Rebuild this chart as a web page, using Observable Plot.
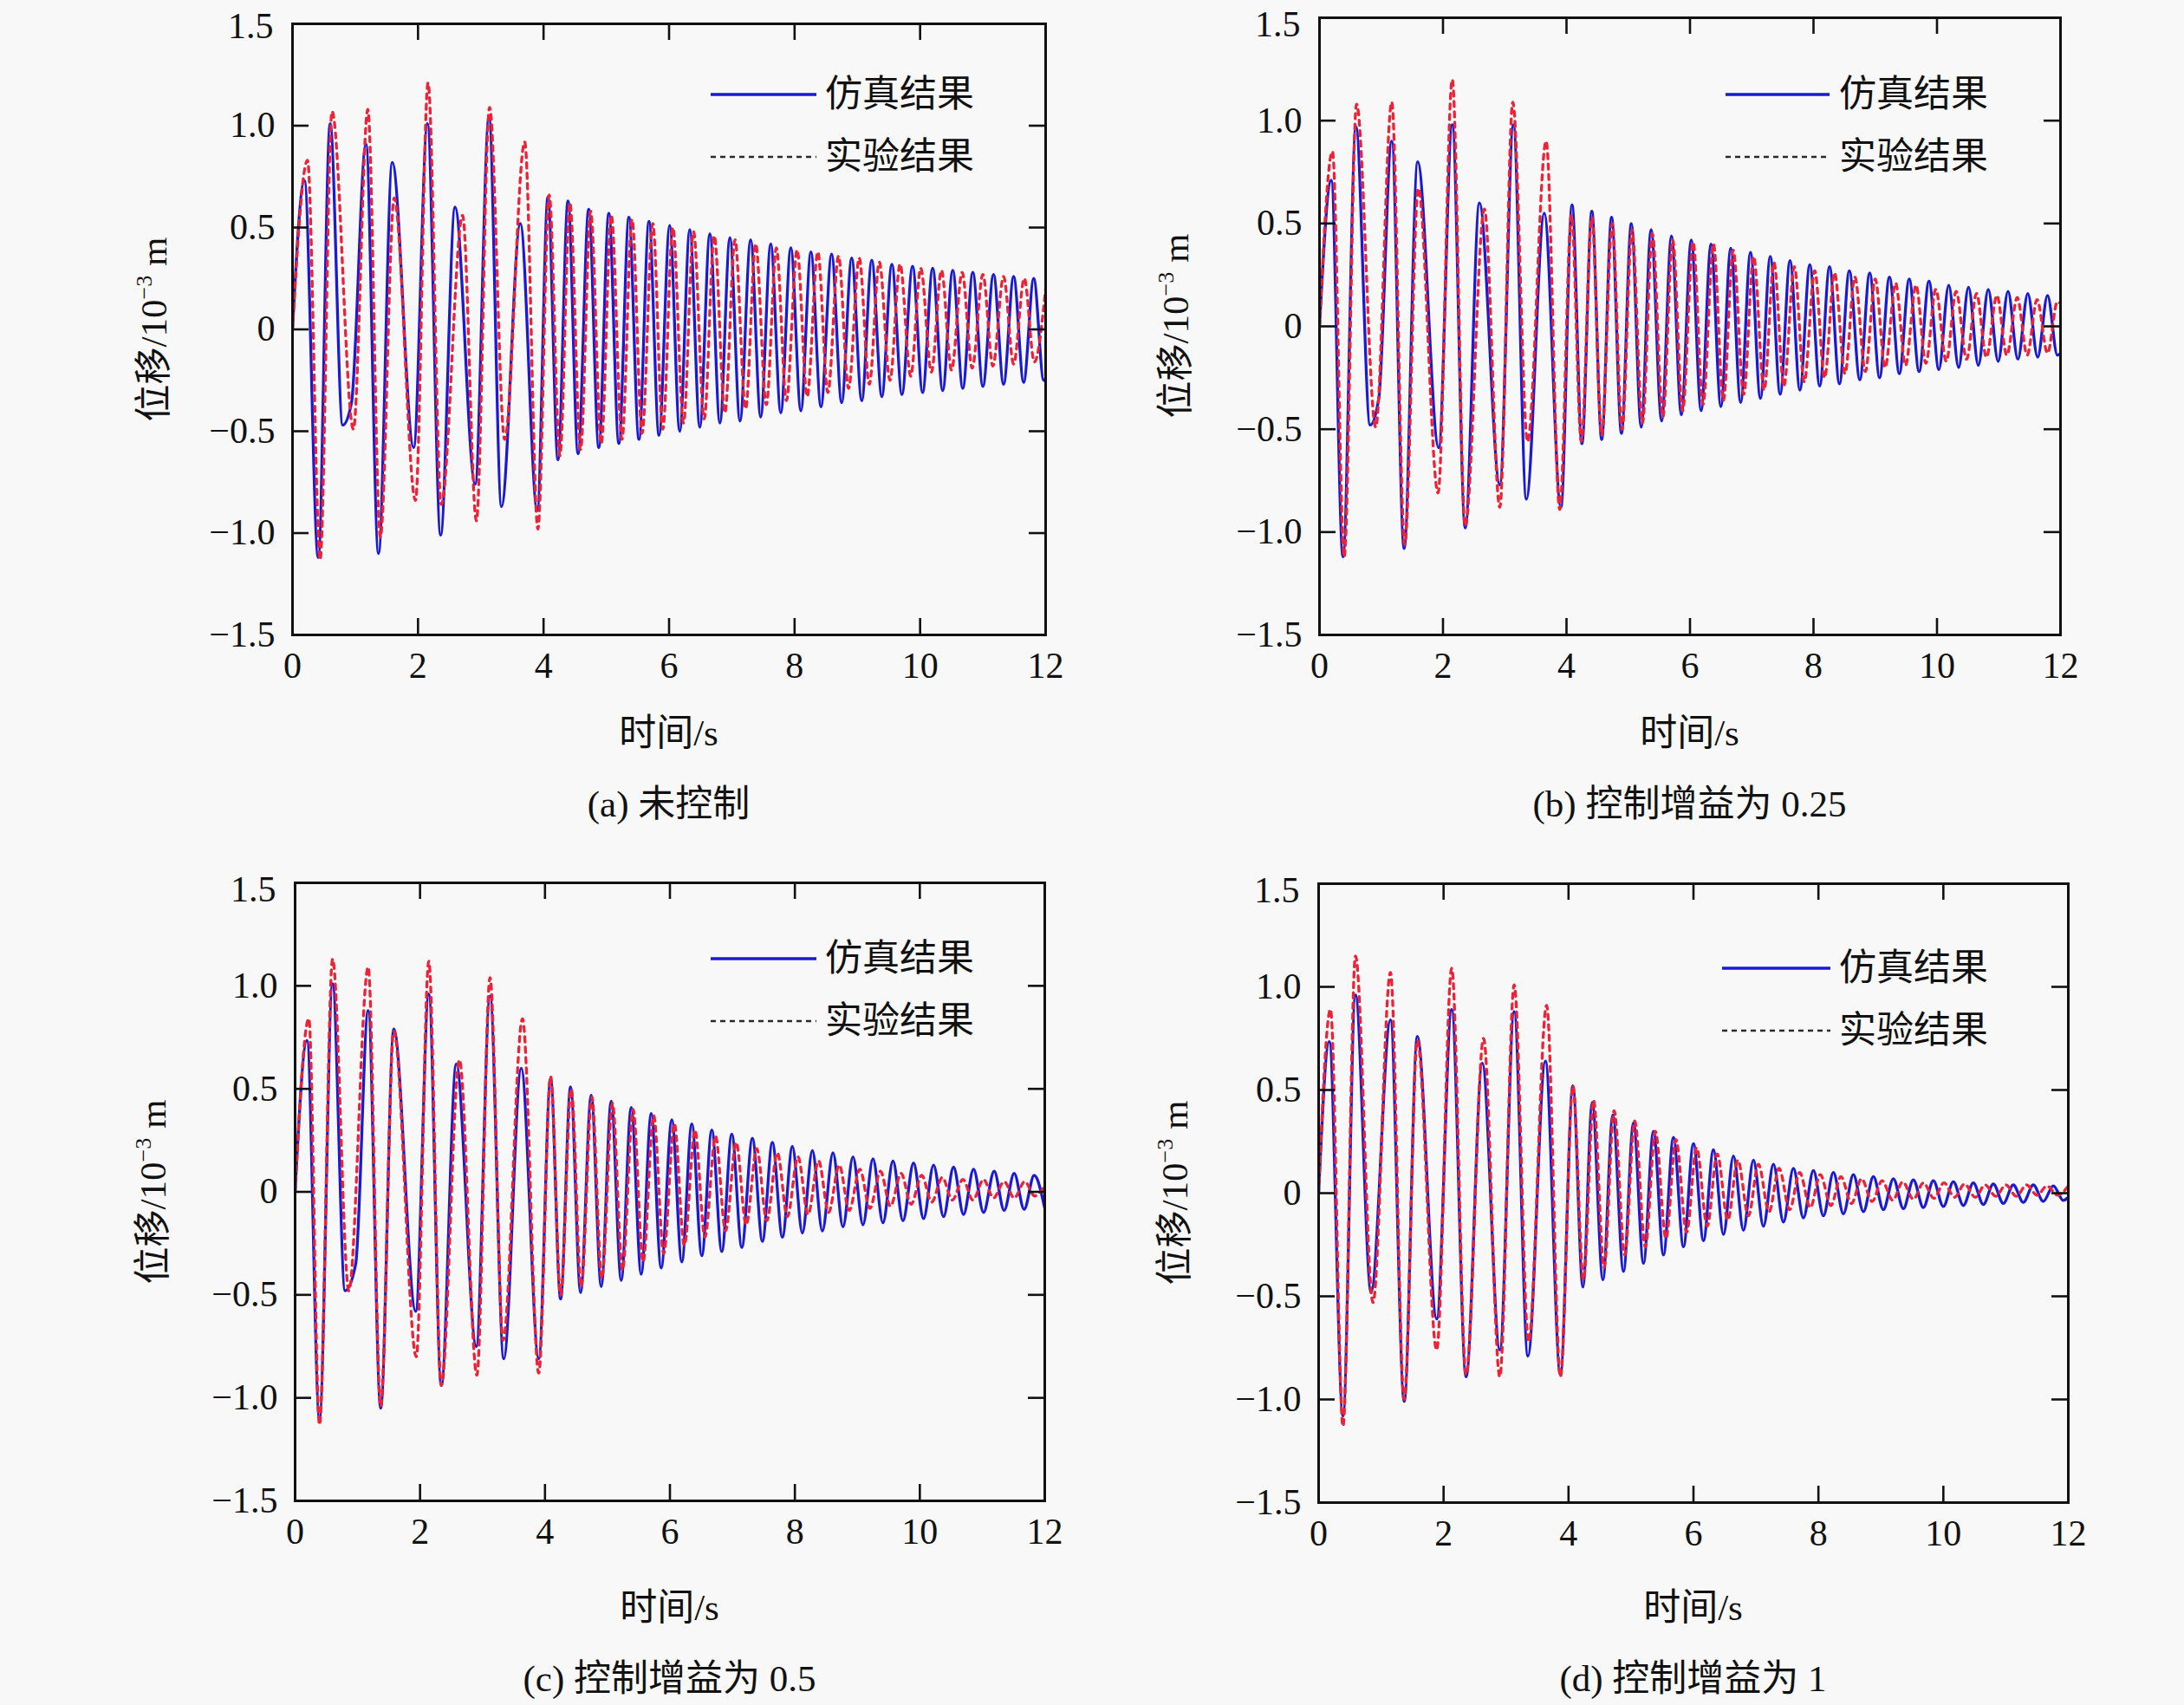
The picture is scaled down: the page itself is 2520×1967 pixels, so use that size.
<!DOCTYPE html>
<html><head><meta charset="utf-8">
<script src="https://cdn.jsdelivr.net/npm/d3@7"></script>
<script src="https://cdn.jsdelivr.net/npm/@observablehq/plot@0.6"></script>
<style>
html,body{margin:0;padding:0;background:#f8f8f8;}
#page{position:relative;width:2520px;height:1967px;background:#f8f8f8;font-family:"Liberation Serif","Noto Sans CJK SC",serif;color:#111;overflow:hidden;}
.abs{position:absolute;white-space:nowrap;line-height:1;}
.ctr{transform:translate(-50%,-50%);font-size:43px;}
.rot{transform:translate(-50%,-50%) rotate(-90deg);font-size:43px;}
.leg{transform:translateY(-52%);font-size:43px;}
sup{font-size:26px;vertical-align:0;position:relative;top:-17px;}
</style></head>
<body><div id="page"></div>
<script>
// ---------- data (time s, displacement 1e-3 m), extrema ----------
const xTicks = [0, 2, 4, 6, 8, 10, 12];
const yTicks = [-1.5, -1, -0.5, 0, 0.5, 1, 1.5];
const seriesNames = ["仿真结果", "实验结果"];
const captions = ["(a) 未控制", "(b) 控制增益为 0.25", "(c) 控制增益为 0.5", "(d) 控制增益为 1"];
const xLabel = "时间/s";

const simA = [[0,0],[0.19,0.73],[0.41,-1.12],[0.60,1.01],[0.80,-0.47],[0.94,-0.36],[1.17,0.91],[1.37,-1.10],[1.59,0.82],[1.93,-0.58],[2.15,1.01],[2.36,-1.01],[2.59,0.60],[2.91,-0.76],[3.13,1.04],[3.33,-0.87],[3.63,0.52],[3.90,-0.89],
[4.07,0.65],[4.23,-0.64],[4.39,0.63],[4.55,-0.61],[4.72,0.59],[4.88,-0.58],[5.04,0.57],[5.20,-0.56],[5.36,0.55],[5.52,-0.54],[5.68,0.53],[5.84,-0.52],[6.01,0.51],[6.17,-0.50],[6.33,0.49],[6.49,-0.48],[6.65,0.47],[6.81,-0.46],[6.97,0.45],[7.13,-0.45],[7.30,0.44],[7.46,-0.43],[7.62,0.42],[7.78,-0.41],[7.94,0.40],[8.10,-0.40],[8.26,0.38],[8.42,-0.38],[8.59,0.37],[8.75,-0.36],[8.91,0.35],[9.07,-0.35],[9.23,0.34],[9.39,-0.33],[9.55,0.32],[9.71,-0.32],[9.88,0.31],[10.04,-0.31],[10.20,0.30],[10.36,-0.30],[10.52,0.29],[10.68,-0.29],[10.84,0.28],[11.00,-0.28],[11.17,0.27],[11.33,-0.27],[11.49,0.26],[11.65,-0.26],[11.81,0.25],[11.97,-0.25],[12.0,-0.24]];
const expA = [[0,0],[0.24,0.83],[0.44,-1.13],[0.63,1.07],[0.97,-0.49],[1.20,1.08],[1.40,-1.02],[1.62,0.645],[1.96,-0.84],[2.16,1.21],[2.37,-0.86],[2.71,0.56],[2.93,-0.94],[3.14,1.09],[3.38,-0.54],[3.70,0.92],[3.91,-0.98],
[4.09,0.66],[4.26,-0.62],[4.42,0.62],[4.59,-0.59],[4.75,0.58],[4.92,-0.56],[5.08,0.56],[5.25,-0.54],[5.41,0.54],[5.57,-0.51],[5.74,0.52],[5.90,-0.49],[6.06,0.50],[6.23,-0.46],[6.39,0.48],[6.56,-0.44],[6.72,0.46],[6.89,-0.41],[7.05,0.44],[7.22,-0.39],[7.38,0.42],[7.55,-0.37],[7.71,0.40],[7.87,-0.35],[8.04,0.39],[8.20,-0.33],[8.37,0.38],[8.53,-0.31],[8.70,0.36],[8.86,-0.29],[9.03,0.35],[9.19,-0.27],[9.35,0.33],[9.52,-0.25],[9.68,0.32],[9.85,-0.23],[10.01,0.30],[10.18,-0.21],[10.34,0.29],[10.50,-0.20],[10.67,0.28],[10.83,-0.19],[11.00,0.27],[11.16,-0.18],[11.33,0.26],[11.49,-0.17],[11.66,0.25],[11.82,-0.16],[12.0,0.20]];

const simB = [[0,0],[0.19,0.71],[0.38,-1.12],[0.59,0.97],[0.82,-0.48],[0.96,-0.35],[1.17,0.90],[1.37,-1.08],[1.59,0.80],[1.93,-0.59],[2.15,0.98],[2.36,-0.98],[2.59,0.60],[2.92,-0.77],[3.14,0.98],[3.35,-0.84],[3.64,0.55],[3.91,-0.88],
[4.09,0.59],[4.25,-0.57],[4.41,0.56],[4.57,-0.55],[4.73,0.53],[4.89,-0.52],[5.05,0.50],[5.21,-0.49],[5.37,0.47],[5.54,-0.46],[5.70,0.44],[5.86,-0.43],[6.02,0.42],[6.18,-0.41],[6.34,0.40],[6.50,-0.39],[6.66,0.38],[6.82,-0.37],[6.98,0.36],[7.14,-0.35],[7.30,0.34],[7.46,-0.33],[7.62,0.32],[7.78,-0.31],[7.94,0.30],[8.10,-0.29],[8.26,0.29],[8.42,-0.28],[8.58,0.27],[8.75,-0.26],[8.91,0.26],[9.07,-0.25],[9.23,0.24],[9.39,-0.23],[9.55,0.23],[9.71,-0.22],[9.87,0.22],[10.03,-0.21],[10.19,0.20],[10.35,-0.20],[10.51,0.19],[10.67,-0.19],[10.83,0.18],[10.99,-0.17],[11.15,0.17],[11.31,-0.16],[11.47,0.16],[11.63,-0.15],[11.79,0.15],[11.95,-0.14],[12.0,-0.13]];
const expB = [[0,0],[0.21,0.85],[0.40,-1.12],[0.60,1.08],[0.91,-0.49],[1.17,1.09],[1.38,-1.06],[1.60,0.67],[1.92,-0.81],[2.15,1.20],[2.36,-0.97],[2.67,0.57],[2.92,-0.88],[3.13,1.09],[3.37,-0.56],[3.67,0.90],[3.89,-0.89],
[4.08,0.54],[4.24,-0.56],[4.41,0.53],[4.57,-0.53],[4.74,0.50],[4.90,-0.50],[5.06,0.47],[5.23,-0.47],[5.39,0.45],[5.56,-0.44],[5.72,0.42],[5.88,-0.41],[6.05,0.41],[6.21,-0.38],[6.38,0.40],[6.54,-0.36],[6.70,0.37],[6.87,-0.33],[7.03,0.34],[7.20,-0.31],[7.36,0.31],[7.52,-0.29],[7.69,0.29],[7.85,-0.27],[8.02,0.27],[8.18,-0.25],[8.34,0.26],[8.51,-0.23],[8.67,0.24],[8.84,-0.22],[9.00,0.23],[9.16,-0.20],[9.33,0.21],[9.49,-0.19],[9.66,0.20],[9.82,-0.18],[9.98,0.18],[10.15,-0.17],[10.31,0.17],[10.48,-0.16],[10.64,0.16],[10.80,-0.15],[10.97,0.15],[11.13,-0.14],[11.30,0.14],[11.46,-0.14],[11.62,0.13],[11.79,-0.13],[11.95,0.12],[12.0,0.11]];

const simC = [[0,0],[0.19,0.735],[0.39,-1.10],[0.60,1.01],[0.80,-0.48],[0.97,-0.35],[1.17,0.88],[1.37,-1.05],[1.58,0.79],[1.93,-0.58],[2.14,0.96],[2.34,-0.94],[2.58,0.62],[2.90,-0.75],[3.12,0.95],[3.34,-0.81],[3.62,0.60],[3.90,-0.81],
[4.09,0.55],[4.25,-0.52],[4.41,0.51],[4.57,-0.49],[4.74,0.47],[4.90,-0.46],[5.06,0.44],[5.22,-0.43],[5.38,0.41],[5.54,-0.40],[5.70,0.38],[5.86,-0.37],[6.03,0.35],[6.19,-0.34],[6.35,0.33],[6.51,-0.31],[6.67,0.30],[6.83,-0.29],[6.99,0.28],[7.15,-0.27],[7.32,0.26],[7.48,-0.24],[7.64,0.24],[7.80,-0.22],[7.96,0.22],[8.12,-0.20],[8.28,0.20],[8.44,-0.19],[8.61,0.19],[8.77,-0.17],[8.93,0.17],[9.09,-0.16],[9.25,0.16],[9.41,-0.15],[9.57,0.15],[9.73,-0.14],[9.90,0.14],[10.06,-0.13],[10.22,0.13],[10.38,-0.12],[10.54,0.12],[10.70,-0.11],[10.86,0.11],[11.02,-0.10],[11.19,0.10],[11.35,-0.09],[11.51,0.09],[11.67,-0.085],[11.83,0.08],[12.0,-0.08]];
const expC = [[0,0],[0.22,0.84],[0.39,-1.13],[0.60,1.13],[0.86,-0.48],[1.17,1.09],[1.37,-1.04],[1.58,0.78],[1.94,-0.80],[2.14,1.12],[2.34,-0.94],[2.63,0.64],[2.91,-0.89],[3.12,1.04],[3.33,-0.72],[3.64,0.84],[3.90,-0.88],
[4.09,0.56],[4.25,-0.50],[4.42,0.50],[4.58,-0.46],[4.75,0.46],[4.91,-0.42],[5.08,0.43],[5.24,-0.38],[5.41,0.40],[5.57,-0.34],[5.74,0.37],[5.90,-0.30],[6.07,0.33],[6.23,-0.26],[6.40,0.30],[6.56,-0.22],[6.73,0.27],[6.89,-0.19],[7.06,0.24],[7.22,-0.16],[7.39,0.21],[7.55,-0.14],[7.72,0.19],[7.88,-0.12],[8.05,0.17],[8.21,-0.11],[8.38,0.15],[8.54,-0.10],[8.71,0.13],[8.87,-0.09],[9.04,0.11],[9.20,-0.08],[9.37,0.10],[9.53,-0.07],[9.70,0.09],[9.86,-0.06],[10.03,0.08],[10.19,-0.05],[10.36,0.07],[10.52,-0.04],[10.69,0.06],[10.85,-0.04],[11.02,0.06],[11.18,-0.03],[11.35,0.05],[11.51,-0.03],[11.68,0.05],[11.84,-0.02],[12.0,0.03]];

const simD = [[0,0],[0.17,0.735],[0.39,-1.08],[0.59,0.96],[0.84,-0.48],[1.15,0.84],[1.37,-1.01],[1.58,0.76],[1.89,-0.61],[2.13,0.89],[2.36,-0.89],[2.62,0.63],[2.90,-0.76],[3.13,0.88],[3.35,-0.79],[3.63,0.64],[3.87,-0.88],
[4.07,0.52],[4.23,-0.455],[4.38,0.44],[4.55,-0.42],[4.71,0.38],[4.88,-0.38],[5.04,0.34],[5.20,-0.34],[5.36,0.30],[5.52,-0.30],[5.68,0.27],[5.84,-0.26],[6.00,0.24],[6.16,-0.23],[6.32,0.21],[6.48,-0.20],[6.64,0.18],[6.80,-0.18],[6.96,0.16],[7.12,-0.16],[7.28,0.14],[7.44,-0.14],[7.60,0.12],[7.76,-0.12],[7.92,0.11],[8.08,-0.11],[8.24,0.10],[8.40,-0.10],[8.56,0.09],[8.72,-0.09],[8.88,0.08],[9.04,-0.08],[9.20,0.07],[9.36,-0.075],[9.52,0.065],[9.68,-0.07],[9.84,0.06],[10.00,-0.065],[10.16,0.055],[10.32,-0.06],[10.48,0.05],[10.64,-0.055],[10.80,0.045],[10.96,-0.05],[11.12,0.04],[11.28,-0.045],[11.44,0.04],[11.60,-0.04],[11.76,0.035],[11.92,-0.035],[12.0,-0.02]];
const expD = [[0,0],[0.19,0.89],[0.39,-1.13],[0.59,1.15],[0.87,-0.53],[1.15,1.07],[1.37,-1.00],[1.58,0.74],[1.89,-0.76],[2.13,1.09],[2.36,-0.88],[2.64,0.75],[2.90,-0.89],[3.13,1.01],[3.36,-0.72],[3.65,0.91],[3.87,-0.89],
[4.07,0.52],[4.24,-0.42],[4.40,0.45],[4.57,-0.36],[4.73,0.40],[4.90,-0.30],[5.06,0.35],[5.23,-0.26],[5.39,0.30],[5.56,-0.22],[5.72,0.26],[5.89,-0.19],[6.05,0.22],[6.22,-0.16],[6.38,0.19],[6.55,-0.13],[6.71,0.16],[6.88,-0.11],[7.04,0.14],[7.21,-0.09],[7.37,0.12],[7.54,-0.08],[7.70,0.10],[7.87,-0.07],[8.03,0.09],[8.20,-0.06],[8.36,0.08],[8.53,-0.05],[8.69,0.07],[8.86,-0.04],[9.02,0.06],[9.19,-0.035],[9.35,0.055],[9.52,-0.03],[9.68,0.05],[9.85,-0.025],[10.01,0.05],[10.18,-0.02],[10.34,0.045],[10.51,-0.02],[10.67,0.04],[10.84,-0.015],[11.00,0.04],[11.17,-0.015],[11.33,0.04],[11.50,-0.01],[11.66,0.035],[11.83,-0.01],[12.0,0.035]];

// ---------- layout ----------
const panels = [
  {sim: simA, exp: expA, L: 337, R: 1206, T: 27, B: 732, topDy: 3, cap: captions[0], ylx: 177, xly: 845, capy: 927, legX: 820, legX2: 942, legT: 952, legY: 109},
  {sim: simB, exp: expB, L: 1522, R: 2377, T: 20, B: 732, topDy: 8, cap: captions[1], ylx: 1356, xly: 845, capy: 927, legX: 1991, legX2: 2111, legT: 2122, legY: 109},
  {sim: simC, exp: expC, L: 340, R: 1205, T: 1018, B: 1731, topDy: 8, cap: captions[2], ylx: 176, xly: 1854, capy: 1936, legX: 820, legX2: 942, legT: 952, legY: 1106},
  {sim: simD, exp: expD, L: 1521, R: 2386, T: 1019, B: 1733, topDy: 8, cap: captions[3], ylx: 1355, xly: 1854, capy: 1936, legX: 1987, legX2: 2112, legT: 2122, legY: 1117}
];
const BLUE = "#1a1ad2", RED = "#ec2236", INK = "#111";
const page = document.getElementById("page");
const fmtY = d => d === 0 ? "0" : d3.format(".1f")(d);

function addText(html, cls, x, y) {
  const el = document.createElement("div");
  el.className = "abs " + cls;
  el.style.left = x + "px"; el.style.top = y + "px";
  el.innerHTML = html;
  page.appendChild(el);
}

for (const p of panels) {
  const mL = 130, mR = 40, mT = 30, mB = 80;
  const w = p.R - p.L, h = p.B - p.T;
  const simData = p.sim.map(([t, v]) => ({t, v}));
  const expData = p.exp.map(([t, v]) => ({t, v}));
  const tl = 19;
  const svg = Plot.plot({
    width: w + mL + mR, height: h + mT + mB,
    marginLeft: mL, marginRight: mR, marginTop: mT, marginBottom: mB,
    x: {domain: [0, 12]},
    y: {domain: [-1.5, 1.5]},
    style: {background: "transparent", fontFamily: "'Liberation Serif', serif", fontSize: "42px", color: INK, overflow: "visible"},
    marks: [
      Plot.line(simData, {x: "t", y: "v", curve: "monotone-x", stroke: BLUE, strokeWidth: 3.3, clip: true}),
      Plot.line(expData, {x: "t", y: "v", curve: "monotone-x", stroke: RED, strokeWidth: 3.3, strokeDasharray: "6,6", clip: true}),
      Plot.tickX(xTicks, {x: d => d, insetTop: h - tl, stroke: INK, strokeWidth: 2.6}),
      Plot.tickX(xTicks, {x: d => d, insetBottom: h - tl, stroke: INK, strokeWidth: 2.6}),
      Plot.tickY(yTicks, {y: d => d, insetRight: w - tl, stroke: INK, strokeWidth: 2.6}),
      Plot.tickY(yTicks, {y: d => d, insetLeft: w - tl, stroke: INK, strokeWidth: 2.6}),
      Plot.axisX({ticks: xTicks, tickSize: 0, tickPadding: 20, tickFormat: d => String(d), label: null, fill: INK}),
      Plot.axisY({ticks: yTicks.slice(0, -1), tickSize: 0, tickPadding: 20, tickFormat: fmtY, label: null, fill: INK}),
      Plot.axisY({ticks: yTicks.slice(-1), tickSize: 0, tickPadding: 22, tickFormat: fmtY, label: null, fill: INK, dy: p.topDy}),
      Plot.frame({stroke: INK, strokeWidth: 3})
    ]
  });
  const wrap = document.createElement("div");
  wrap.style.position = "absolute";
  wrap.style.left = (p.L - mL) + "px";
  wrap.style.top = (p.T - mT) + "px";
  wrap.style.width = (w + mL + mR) + "px";
  wrap.appendChild(svg);
  page.appendChild(wrap);

  const cx = (p.L + p.R) / 2;
  addText("位移/10<sup>−3</sup> m", "rot", p.ylx, (p.T + p.B) / 2);
  addText(xLabel, "ctr", cx, p.xly);
  addText(p.cap, "ctr", cx, p.capy);

  // legend
  const ns = "http://www.w3.org/2000/svg";
  const lg = document.createElementNS(ns, "svg");
  const lw = p.legX2 - p.legX;
  lg.setAttribute("width", lw); lg.setAttribute("height", 90);
  lg.style.position = "absolute"; lg.style.left = p.legX + "px"; lg.style.top = (p.legY - 10) + "px";
  lg.innerHTML = `<line x1="0" x2="${lw}" y1="10" y2="10" stroke="${BLUE}" stroke-width="3.3"/>` +
    `<line x1="0" x2="${lw}" y1="82" y2="82" stroke="#2a2a2a" stroke-width="2.4" stroke-dasharray="6,5"/>`;
  page.appendChild(lg);
  addText(seriesNames[0], "leg", p.legT, p.legY);
  addText(seriesNames[1], "leg", p.legT, p.legY + 72);
}
</script>
</body></html>
